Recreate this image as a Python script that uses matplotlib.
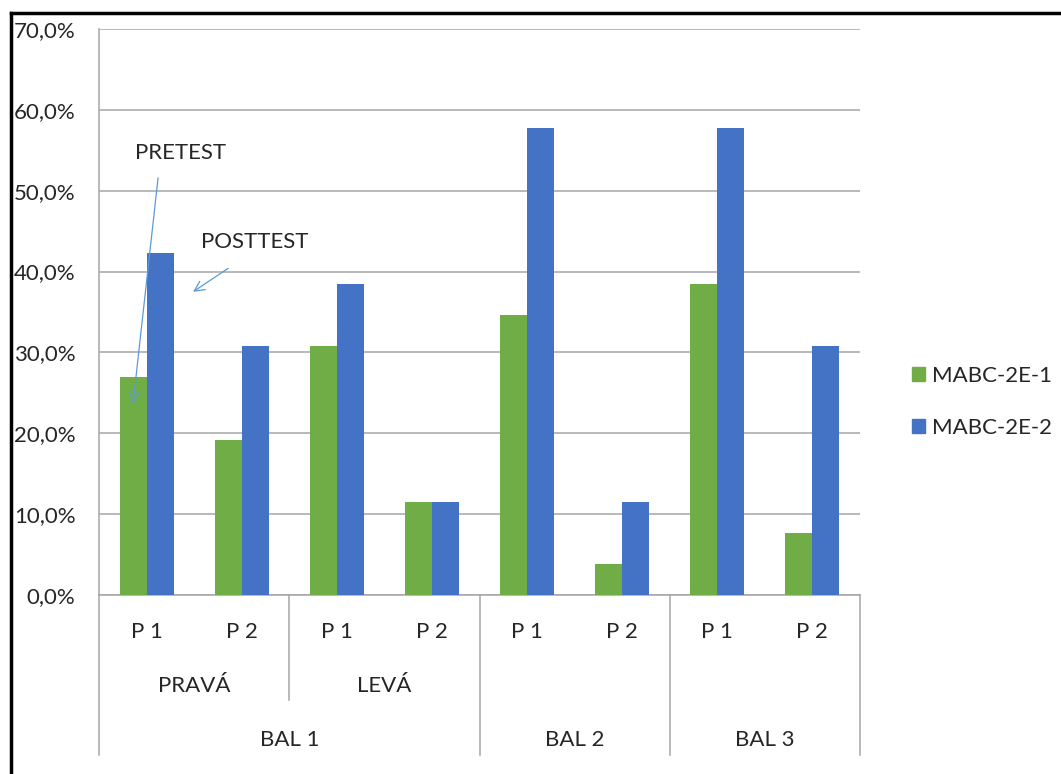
import matplotlib

matplotlib.use("Agg")

import matplotlib.pyplot as plt
from matplotlib.lines import Line2D
from matplotlib.patches import Patch
from matplotlib.ticker import FuncFormatter
import numpy as np

# Three-level category axis: test item / side / balance task
items = ["P 1", "P 2", "P 1", "P 2", "P 1", "P 2", "P 1", "P 2"]
sides = [("PRAVÁ", 0, 2), ("LEVÁ", 2, 4)]
tasks = [("BAL 1", 0, 4), ("BAL 2", 4, 6), ("BAL 3", 6, 8)]

series = ["MABC-2E-1", "MABC-2E-2"]
mabc1 = [26.9, 19.2, 30.8, 11.5, 34.6, 3.8, 38.5, 7.7]
mabc2 = [42.3, 30.8, 38.5, 11.5, 57.7, 11.5, 57.7, 30.8]

GREEN = "#70AD47"
BLUE = "#4472C4"
GRID = "#A6A6A6"
TXT = "#262626"
FS = 16

plt.rcParams["font.family"] = ["Lato", "DejaVu Sans"]
plt.rcParams["font.size"] = FS

fig = plt.figure(figsize=(10.61, 7.74), dpi=100)
W, H = 1061, 774
ax = fig.add_axes([99 / W, (H - 595) / H, 761 / W, 566 / H])

x = np.arange(len(items)) + 0.5
bw = 0.284
ax.bar(x - bw / 2, mabc1, bw, color=GREEN, label=series[0], zorder=3)
ax.bar(x + bw / 2, mabc2, bw, color=BLUE, label=series[1], zorder=3)

ax.set_xlim(0, len(items))
ax.set_ylim(0, 70)
ax.set_yticks(np.arange(0, 71, 10))
ax.yaxis.set_major_formatter(
    FuncFormatter(lambda v, _: f"{v:.1f}%".replace(".", ",")))
ax.grid(axis="y", color=GRID, lw=1.1, zorder=0)
ax.tick_params(axis="y", length=0, pad=17, colors=TXT, labelsize=FS)
ax.set_xticks([])
for s in ("top", "right"):
    ax.spines[s].set_visible(False)
ax.spines["bottom"].set_color(GRID)
ax.spines["left"].set_color(GRID)
ax.spines["bottom"].set_linewidth(1.1)
ax.spines["left"].set_linewidth(1.1)

# hand-drawn multi-level labels under the axis
tr = ax.get_xaxis_transform()
for xi, lab in zip(x, items):
    ax.text(xi, -0.065, lab, transform=tr, ha="center", va="center",
            color=TXT, fontsize=FS)
for lab, a, b in sides:
    ax.text((a + b) / 2, -0.161, lab, transform=tr, ha="center",
            va="center", color=TXT, fontsize=FS)
for lab, a, b in tasks:
    ax.text((a + b) / 2, -0.256, lab, transform=tr, ha="center",
            va="center", color=TXT, fontsize=FS)
for xs in (0, 4, 6, 8):
    ax.plot([xs, xs], [0, -0.283], transform=tr, color=GRID, lw=1.1,
            clip_on=False)
ax.plot([2, 2], [0, -0.1855], transform=tr, color=GRID, lw=1.1,
        clip_on=False)

# callouts
arrow = dict(arrowstyle="->", color="#5B9BD5", lw=0.9,
             mutation_scale=18, shrinkA=0, shrinkB=0)
ax.annotate("", xy=(0.358, 23.7), xytext=(0.621, 51.6),
            arrowprops=arrow, zorder=5)
ax.annotate("", xy=(0.989, 37.5), xytext=(1.358, 40.4),
            arrowprops=arrow, zorder=5)
ax.text(0.853, 54.7, "PRETEST", ha="center", va="center", color=TXT,
        fontsize=FS)
ax.text(1.642, 43.6, "POSTTEST", ha="center", va="center", color=TXT,
        fontsize=FS)

handles = [Patch(color=GREEN), Patch(color=BLUE)]
fig.legend(handles, series, loc="center left",
           bbox_to_anchor=(892 / W, 1 - 402 / H), frameon=False,
           handlelength=0.6, handleheight=0.6, handletextpad=0.3,
           labelspacing=1.45, fontsize=FS, labelcolor=TXT)

# outer frame, only top and left edges visible
fig.add_artist(Line2D([11 / W, 1], [1 - 13 / H, 1 - 13 / H],
                      color="black", lw=2.5))
fig.add_artist(Line2D([11 / W, 11 / W], [0, 1 - 13 / H],
                      color="black", lw=2.5))

fig.savefig("out.png", dpi=100, facecolor="white")
